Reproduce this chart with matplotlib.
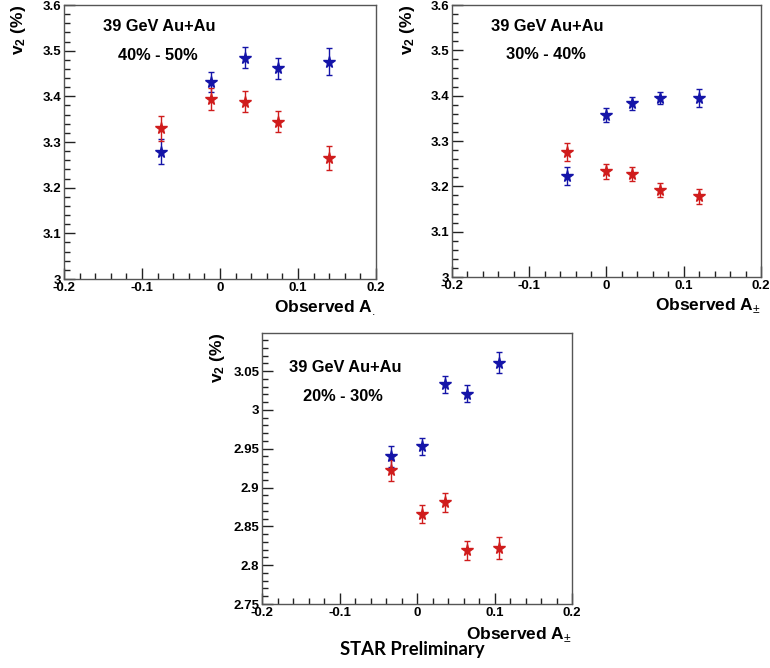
import numpy as np
import matplotlib.pyplot as plt
from matplotlib.ticker import MultipleLocator

# Panel 1: 40% - 50%
x1 = [-0.076, -0.012, 0.032, 0.075, 0.140]
blue1 = [3.279, 3.432, 3.485, 3.461, 3.476]
blue1_err = [0.027, 0.022, 0.022, 0.022, 0.029]
red1 = [3.330, 3.394, 3.388, 3.344, 3.265]
red1_err = [0.027, 0.024, 0.023, 0.023, 0.026]

# Panel 2: 30% - 40%
x2 = [-0.051, -0.001, 0.033, 0.069, 0.120]
blue2 = [3.223, 3.357, 3.383, 3.395, 3.395]
blue2_err = [0.020, 0.015, 0.015, 0.014, 0.020]
red2 = [3.276, 3.233, 3.227, 3.192, 3.178]
red2_err = [0.020, 0.016, 0.016, 0.016, 0.017]

# Panel 3: 20% - 30%
x3 = [-0.034, 0.007, 0.036, 0.064, 0.106]
blue3 = [2.940, 2.953, 3.033, 3.021, 3.061]
blue3_err = [0.013, 0.011, 0.011, 0.011, 0.014]
red3 = [2.922, 2.866, 2.881, 2.819, 2.822]
red3_err = [0.014, 0.012, 0.012, 0.012, 0.014]

BLUE = '#1414a8'
RED = '#d01c1c'
FRAME = '#555555'

plt.rcParams['font.family'] = ['Liberation Sans', 'DejaVu Sans']
plt.rcParams['mathtext.fontset'] = 'custom'
plt.rcParams['mathtext.rm'] = 'Liberation Sans'
plt.rcParams['mathtext.bf'] = 'Liberation Sans:bold'

fig = plt.figure(figsize=(7.7, 6.68), dpi=100)


def make_panel(rect, x, blue, blue_err, red, red_err, ylim, ymajor, yminor,
               centrality, txt_pos, xlabel, xlab_y):
    ax = fig.add_axes(rect)
    ax.errorbar(x, blue, yerr=blue_err, fmt='*', color=BLUE, ms=8.5,
                elinewidth=1, capsize=2.2, capthick=1, zorder=3)
    ax.errorbar(x, red, yerr=red_err, fmt='*', color=RED, ms=8.5,
                elinewidth=1, capsize=2.2, capthick=1, zorder=3)
    ax.set_xlim(-0.2, 0.2)
    ax.set_ylim(*ylim)
    ax.xaxis.set_major_locator(MultipleLocator(0.1))
    ax.xaxis.set_minor_locator(MultipleLocator(0.02))
    ax.yaxis.set_major_locator(MultipleLocator(ymajor))
    ax.yaxis.set_minor_locator(MultipleLocator(yminor))
    fmt = plt.FuncFormatter(lambda v, p: '%g' % round(v, 2))
    ax.xaxis.set_major_formatter(fmt)
    ax.yaxis.set_major_formatter(fmt)
    ax.tick_params(which='both', direction='in', top=False, right=False,
                   labelsize=9.5, color='#222222', pad=2)
    ax.tick_params(which='major', length=8, width=1)
    ax.tick_params(which='minor', length=4.5, width=1)
    for lab in ax.get_xticklabels() + ax.get_yticklabels():
        lab.set_fontweight('bold')
    for s in ax.spines.values():
        s.set_color(FRAME)
        s.set_linewidth(1)
    ax.text(txt_pos[0], txt_pos[1], '39 GeV Au+Au', transform=ax.transAxes,
            fontsize=11.8, fontweight='bold', va='center', ha='left')
    ax.text(txt_pos[2], txt_pos[3], centrality, transform=ax.transAxes,
            fontsize=11.8, fontweight='bold', va='center', ha='left')
    ax.text(-0.145, 1.0, r'$\mathbf{v_{2}}$ (%)', transform=ax.transAxes,
            rotation=90, fontsize=12.5, fontweight='bold', ha='center', va='top')
    ax.text(1.0, xlab_y, xlabel, transform=ax.transAxes, fontsize=12.5,
            fontweight='bold', ha='right', va='baseline')
    return ax


make_panel([0.0831, 0.5823, 0.4052, 0.4102], x1, blue1, blue1_err, red1, red1_err,
           (3.0, 3.6), 0.1, 0.02, '40% - 50%',
           (0.125, 0.92, 0.173, 0.8175), r'Observed A$_{.}$', -0.12)

make_panel([0.5870, 0.5853, 0.4013, 0.4072], x2, blue2, blue2_err, red2, red2_err,
           (3.0, 3.6), 0.1, 0.02, '30% - 40%',
           (0.126, 0.92, 0.174, 0.8175), r'Observed A$_{\pm}$', -0.12)

make_panel([0.3403, 0.0958, 0.4026, 0.4057], x3, blue3, blue3_err, red3, red3_err,
           (2.75, 3.099), 0.05, 0.01, '20% - 30%',
           (0.087, 0.871, 0.132, 0.764), r'Observed A$_{\pm}$', -0.13)

fig.text(0.442, 0.027, 'STAR Preliminary', fontsize=13.3, fontweight='bold',
         family=['Lato', 'DejaVu Sans'], ha='left', va='center')

fig.savefig('out.png', dpi=100)
